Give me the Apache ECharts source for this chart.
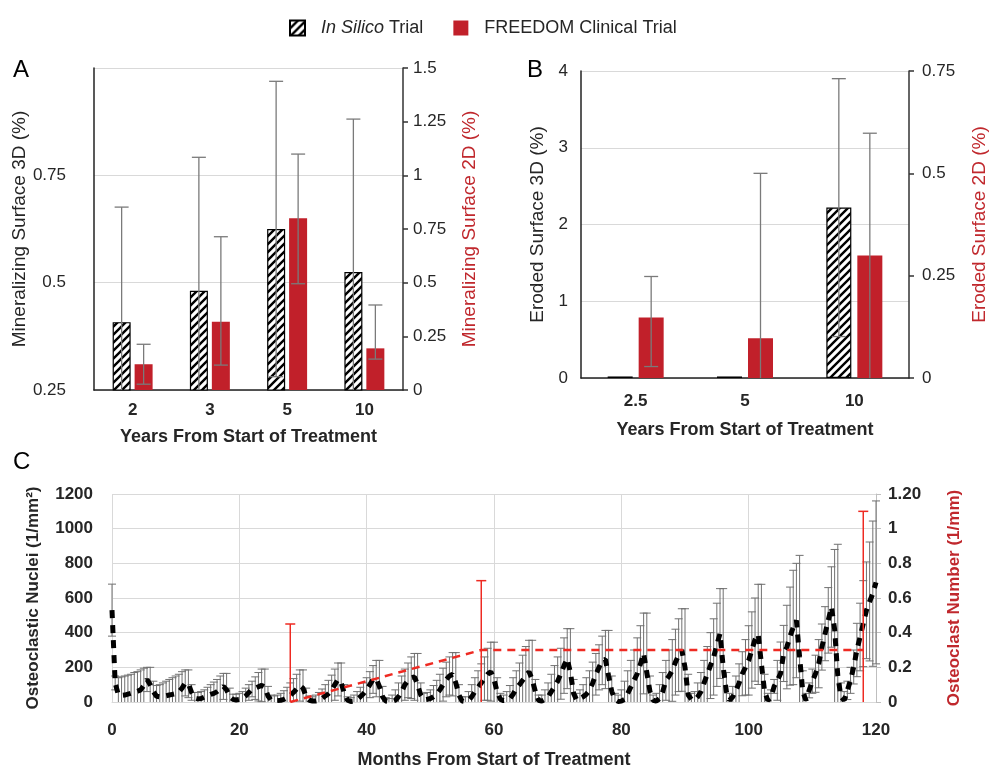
<!DOCTYPE html>
<html>
<head>
<meta charset="utf-8">
<script src="https://cdn.jsdelivr.net/npm/echarts@6/dist/echarts.min.js"></script>
<style>
  html, body { margin: 0; padding: 0; background: #fff; }
  #chart { width: 992px; height: 770px; }
</style>
</head>
<body>
<div id="chart"></div>
<script>
// ---- panel A: mineralizing surface ----
var yearsA = ['2', '3', '5', '10']
var msInSilico = [0.408, 0.481, 0.625, 0.525]
var msInSilicoLo = [0.14, 0.17, 0.281, 0.169]
var msInSilicoHi = [0.676, 0.792, 0.969, 0.881]
var msFreedom = [0.12, 0.318, 0.80, 0.194]
var msFreedomLo = [0.027, 0.116, 0.495, 0.144]
var msFreedomHi = [0.213, 0.714, 1.099, 0.396]

// ---- panel B: eroded surface ----
var yearsB = ['2.5', '5', '10']
var esInSilico = [0.02, 0.02, 2.22]
var esInSilicoLo = [0.02, 0.02, 0.54]
var esInSilicoHi = [0.02, 0.02, 3.90]
var esFreedom = [0.148, 0.097, 0.299]
var esFreedomLo = [0.028, 0, 0]
var esFreedomHi = [0.248, 0.50, 0.598]

// ---- panel C: osteoclasts, simulated every half month (0..120) ----
var ocMean = [
  530, 110, 40, 38, 40, 45, 50, 55, 62, 70, 95, 130,
  100, 60, 33, 30, 33, 36, 40, 44, 48, 58, 80, 110,
  105, 55, 22, 18, 20, 28, 36, 44, 50, 60, 75, 90,
  70, 30, 15, 12, 15, 20, 35, 55, 75, 80, 88, 96,
  85, 35, 10, 8, 8, 10, 15, 25, 39, 55, 75, 95,
  80, 30, 10, 6, 6, 10, 20, 35, 48, 70, 100, 130,
  110, 50, 10, 3, 5, 15, 30, 48, 70, 100, 130, 135,
  90, 30, 5, 2, 3, 10, 30, 60, 100, 125, 140, 145,
  100, 40, 12, 15, 20, 30, 45, 70, 100, 130, 150, 160,
  110, 40, 5, 2, 10, 30, 60, 85, 110, 135, 160, 175,
  130, 60, 15, 8, 10, 20, 45, 77, 100, 125, 150, 175,
  130, 60, 10, 5, 15, 30, 60, 87, 120, 163, 210, 250,
  170, 50, 10, 20, 30, 45, 67, 110, 160, 200, 240, 245,
  150, 60, 15, 3, 5, 15, 50, 87, 125, 163, 220, 280,
  170, 60, 10, 5, 20, 60, 125, 150, 182, 230, 270, 300,
  200, 40, 15, 10, 30, 60, 110, 160, 210, 260, 330, 395,
  200, 60, 10, 30, 67, 110, 163, 200, 240, 300, 360, 390,
  220, 60, 10, 25, 90, 125, 163, 280, 317, 380, 430, 470,
  260, 60, 10, 67, 120, 163, 221, 317, 394, 471, 548, 420,
  150, 30, 10, 67, 125, 202, 300, 375, 452, 529, 580, 625,
  690
]
var ocSD = [
  150, 40, 100, 107, 110, 110, 110, 115, 113, 115, 100, 70,
  100, 60, 62, 70, 77, 84, 90, 96, 102, 102, 95, 75,
  80, 45, 33, 37, 40, 42, 49, 56, 65, 70, 75, 75,
  95, 50, 30, 33, 35, 40, 45, 45, 45, 65, 82, 94,
  105, 55, 30, 27, 32, 40, 50, 60, 71, 80, 85, 90,
  105, 50, 25, 24, 34, 45, 55, 65, 77, 85, 90, 95,
  115, 50, 20, 22, 35, 45, 55, 62, 70, 75, 80, 105,
  150, 60, 20, 18, 37, 60, 80, 90, 90, 100, 120, 135,
  180, 70, 38, 40, 50, 65, 80, 90, 95, 100, 110, 125,
  175, 60, 25, 28, 50, 70, 80, 95, 110, 125, 150, 170,
  215, 80, 35, 32, 50, 75, 95, 103, 125, 145, 170, 181,
  226, 70, 30, 35, 55, 80, 100, 123, 140, 147, 160, 173,
  253, 80, 40, 50, 70, 95, 113, 120, 120, 130, 140, 168,
  263, 90, 35, 37, 65, 105, 130, 153, 175, 207, 220, 233,
  343, 90, 30, 45, 80, 110, 115, 150, 178, 190, 210, 238,
  338, 120, 35, 50, 80, 110, 130, 160, 190, 220, 240, 259,
  454, 110, 40, 60, 83, 110, 127, 160, 200, 220, 240, 289,
  459, 100, 40, 45, 40, 115, 183, 162, 241, 283, 330, 330,
  586, 120, 40, 43, 70, 107, 139, 133, 156, 189, 232, 460,
  760, 80, 50, 53, 75, 98, 154, 195, 248, 279, 343, 419,
  470
]
var freedomMonths = [28, 58, 118]
var ocNumber = [0, 0.3, 0.3]
var ocNumberSD = [0.45, 0.4, 0.8]

var FONT = "'Liberation Sans', Arial, sans-serif"
var TXT = '#262626'
var RED_AXIS = '#c0282d'
var BAR_RED = '#c1202a'
var LINE_RED = '#ee2a22'
var GRID = '#d9d9d9'
var WHISKER = '#707070'

// diagonal hatch for the in-silico bars
var hatch = document.createElement('canvas')
hatch.width = 8
hatch.height = 8
var hctx = hatch.getContext('2d')
hctx.fillStyle = '#fff'
hctx.fillRect(0, 0, 8, 8)
hctx.strokeStyle = '#000'
hctx.lineWidth = 2.4
hctx.beginPath()
hctx.moveTo(-2, 2); hctx.lineTo(2, -2)
hctx.moveTo(0, 8); hctx.lineTo(8, 0)
hctx.moveTo(6, 10); hctx.lineTo(10, 6)
hctx.stroke()
var hatchFill = { image: hatch, repeat: 'repeat' }

function line(x1, y1, x2, y2, color, w) {
  return { type: 'line', shape: { x1: x1, y1: y1, x2: x2, y2: y2 }, style: { stroke: color, lineWidth: w } }
}

// whiskers on grouped category bars
function catErrors(xi, yi, lo, hi, offset, capHalf) {
  return {
    type: 'custom', xAxisIndex: xi, yAxisIndex: yi, z: 5, silent: true,
    data: lo.map(function (l, i) { return [i, l, hi[i]] }),
    renderItem: function (params, api) {
      var l = api.value(1), h = api.value(2)
      if (h - l <= 0) return null
      var area = params.coordSys
      var floor = area.y + area.height
      var top = api.coord([api.value(0), h])
      var bot = api.coord([api.value(0), l])
      var x = top[0] + offset
      var y2 = Math.min(bot[1], floor)
      var kids = [
        line(x, top[1], x, y2, '#7a7a7a', 1.3),
        line(x - capHalf, top[1], x + capHalf, top[1], '#7a7a7a', 1.3)
      ]
      if (bot[1] < floor - 1) kids.push(line(x - capHalf, bot[1], x + capHalf, bot[1], '#7a7a7a', 1.3))
      return { type: 'group', children: kids }
    }
  }
}

// symmetric whiskers on a value x axis, clipped at zero
function timeErrors(yi, xs, mean, sd, color, w, capHalf, z) {
  return {
    type: 'custom', xAxisIndex: 2, yAxisIndex: yi, z: z, silent: true,
    data: mean.map(function (v, i) { return [xs[i], v, sd[i]] }),
    renderItem: function (params, api) {
      var x = api.value(0), v = api.value(1), e = api.value(2)
      var top = api.coord([x, v + e])
      var lowVal = v - e
      var bot = api.coord([x, Math.max(0, lowVal)])
      var kids = [
        line(top[0], top[1], top[0], bot[1], color, w),
        line(top[0] - capHalf, top[1], top[0] + capHalf, top[1], color, w)
      ]
      if (lowVal > 0) kids.push(line(top[0] - capHalf, bot[1], top[0] + capHalf, bot[1], color, w))
      return { type: 'group', children: kids }
    }
  }
}

var halfMonths = ocMean.map(function (v, i) { return i / 2 })

var chart = echarts.init(document.getElementById('chart'))

var labelStyle = { color: TXT, fontFamily: FONT, fontSize: 17 }
var boldLabel = { color: TXT, fontFamily: FONT, fontSize: 17, fontWeight: 'bold' }
var titleStyle = { color: TXT, fontFamily: FONT, fontSize: 18, fontWeight: 'bold' }
var plain = function (v) { return String(v) }

chart.setOption({
  animation: false,
  backgroundColor: '#fff',
  textStyle: { fontFamily: FONT },
  legend: {
    left: 284, top: 14, itemWidth: 15, itemHeight: 15, itemGap: 30, icon: 'rect',
    data: ['In Silico Trial', 'FREEDOM Clinical Trial'],
    formatter: function (n) { return n === 'In Silico Trial' ? '{i|In Silico} Trial' : n },
    textStyle: {
      color: TXT, fontFamily: FONT, fontSize: 18, padding: [0, 0, 0, 11],
      rich: { i: { fontStyle: 'italic', color: TXT, fontFamily: FONT, fontSize: 18 } }
    }
  },
  graphic: [
    { type: 'text', left: 13, top: 58, style: { text: 'A', font: '24px ' + FONT, fill: '#000' } },
    { type: 'text', left: 527, top: 58, style: { text: 'B', font: '24px ' + FONT, fill: '#000' } },
    { type: 'text', left: 13, top: 450, style: { text: 'C', font: '24px ' + FONT, fill: '#000' } }
  ],
  grid: [
    { left: 94, top: 68, width: 309, height: 322 },
    { left: 581, top: 71, width: 328, height: 307 },
    { left: 112, top: 494, width: 764, height: 208 }
  ],
  xAxis: [
    {
      type: 'category', gridIndex: 0, data: yearsA,
      axisLine: { lineStyle: { color: '#222', width: 1.5 } }, axisTick: { show: false },
      axisLabel: Object.assign({ margin: 12 }, boldLabel),
      name: 'Years From Start of Treatment', nameLocation: 'middle', nameGap: 38,
      nameTextStyle: titleStyle
    },
    {
      type: 'category', gridIndex: 1, data: yearsB,
      axisLine: { lineStyle: { color: '#222', width: 1.5 } }, axisTick: { show: false },
      axisLabel: Object.assign({ margin: 15 }, boldLabel),
      name: 'Years From Start of Treatment', nameLocation: 'middle', nameGap: 43,
      nameTextStyle: titleStyle
    },
    {
      type: 'value', gridIndex: 2, min: 0, max: 120, interval: 20,
      axisLine: { lineStyle: { color: GRID } }, axisTick: { show: false },
      splitLine: { lineStyle: { color: GRID, width: 1 } },
      axisLabel: Object.assign({ margin: 20, formatter: plain }, boldLabel),
      name: 'Months From Start of Treatment', nameLocation: 'middle', nameGap: 49,
      nameTextStyle: titleStyle
    }
  ],
  yAxis: [
    {
      type: 'value', gridIndex: 0, min: 0.25, max: 1, interval: 0.25,
      axisLine: { show: true, lineStyle: { color: '#222', width: 1.5 } }, axisTick: { show: false },
      splitLine: { lineStyle: { color: GRID } },
      axisLabel: Object.assign({ margin: 28, formatter: function (v) { return v >= 1 ? '' : String(v) } }, labelStyle),
      name: 'Mineralizing Surface 3D (%)', nameLocation: 'middle', nameGap: 45,
      nameTextStyle: { color: TXT, fontFamily: FONT, fontSize: 19 }
    },
    {
      type: 'value', gridIndex: 0, position: 'right', min: 0, max: 1.5, interval: 0.25,
      axisLine: { show: true, lineStyle: { color: '#333', width: 1.5 } },
      axisTick: { show: true, inside: false, length: 5, lineStyle: { color: '#333', width: 1.5 } },
      splitLine: { show: false },
      axisLabel: Object.assign({ margin: 10 }, labelStyle),
      name: 'Mineralizing Surface 2D (%)', nameLocation: 'middle', nameGap: 57, nameRotate: 90,
      nameTextStyle: { color: RED_AXIS, fontFamily: FONT, fontSize: 19 }
    },
    {
      type: 'value', gridIndex: 1, min: 0, max: 4, interval: 1,
      axisLine: { show: true, lineStyle: { color: '#222', width: 1.5 } }, axisTick: { show: false },
      splitLine: { lineStyle: { color: GRID } },
      axisLabel: Object.assign({ margin: 13 }, labelStyle),
      name: 'Eroded Surface 3D (%)', nameLocation: 'middle', nameGap: 34,
      nameTextStyle: { color: TXT, fontFamily: FONT, fontSize: 19 }
    },
    {
      type: 'value', gridIndex: 1, position: 'right', min: 0, max: 0.75, interval: 0.25,
      axisLine: { show: true, lineStyle: { color: '#333', width: 1.5 } },
      axisTick: { show: true, inside: false, length: 5, lineStyle: { color: '#333', width: 1.5 } },
      splitLine: { show: false },
      axisLabel: Object.assign({ margin: 13 }, labelStyle),
      name: 'Eroded Surface 2D (%)', nameLocation: 'middle', nameGap: 61, nameRotate: 90,
      nameTextStyle: { color: RED_AXIS, fontFamily: FONT, fontSize: 19 }
    },
    {
      type: 'value', gridIndex: 2, min: 0, max: 1200, interval: 200,
      axisLine: { show: false }, axisTick: { show: false },
      splitLine: { lineStyle: { color: GRID } },
      axisLabel: Object.assign({ margin: 19, formatter: plain }, boldLabel),
      name: 'Osteoclastic Nuclei (1/mm²)', nameLocation: 'middle', nameGap: 70,
      nameTextStyle: { color: TXT, fontFamily: FONT, fontSize: 17, fontWeight: 'bold' }
    },
    {
      type: 'value', gridIndex: 2, position: 'right', min: 0, max: 1.2, interval: 0.2,
      axisLine: { show: true, lineStyle: { color: '#bfbfbf' } },
      axisTick: { show: true, inside: false, length: 5, lineStyle: { color: '#bfbfbf' } },
      splitLine: { show: false },
      axisLabel: Object.assign({
        margin: 12,
        formatter: function (v) { return Math.abs(v - 1.2) < 1e-6 ? '1.20' : String(+v.toFixed(1)) }
      }, boldLabel),
      name: 'Osteoclast Number (1/mm)', nameLocation: 'middle', nameGap: 70, nameRotate: 90,
      nameTextStyle: { color: RED_AXIS, fontFamily: FONT, fontSize: 17, fontWeight: 'bold' }
    }
  ],
  series: [
    {
      name: 'In Silico Trial', type: 'bar', xAxisIndex: 0, yAxisIndex: 0, data: msInSilico,
      barWidth: 18, barGap: '22%',
      itemStyle: { color: hatchFill, borderColor: '#000', borderWidth: 1.2 }
    },
    {
      name: 'FREEDOM Clinical Trial', type: 'bar', xAxisIndex: 0, yAxisIndex: 1, data: msFreedom,
      barWidth: 18, barGap: '22%',
      itemStyle: { color: BAR_RED, borderColor: '#8a1a1e', borderWidth: 0 }
    },
    catErrors(0, 0, msInSilicoLo, msInSilicoHi, -11, 7),
    catErrors(0, 1, msFreedomLo, msFreedomHi, 11, 7),
    {
      name: 'In Silico Trial', type: 'bar', xAxisIndex: 1, yAxisIndex: 2, data: esInSilico,
      barWidth: 25, barGap: '24%',
      itemStyle: { color: hatchFill, borderColor: '#000', borderWidth: 1.2 }
    },
    {
      name: 'FREEDOM Clinical Trial', type: 'bar', xAxisIndex: 1, yAxisIndex: 3, data: esFreedom,
      barWidth: 25, barGap: '24%',
      itemStyle: { color: BAR_RED, borderColor: '#8a1a1e', borderWidth: 0 }
    },
    catErrors(1, 2, esInSilicoLo, esInSilicoHi, -15.5, 7),
    catErrors(1, 3, esFreedomLo, esFreedomHi, 15.5, 7),
    timeErrors(4, halfMonths, ocMean, ocSD, WHISKER, 1, 4, 3),
    {
      type: 'line', xAxisIndex: 2, yAxisIndex: 4, z: 4, symbol: 'none', silent: true,
      data: ocMean.map(function (v, i) { return [halfMonths[i], v] }),
      lineStyle: { color: '#000', width: 5, type: [8, 7] }
    },
    timeErrors(5, freedomMonths, ocNumber, ocNumberSD, LINE_RED, 1.5, 5, 6),
    {
      type: 'line', xAxisIndex: 2, yAxisIndex: 5, z: 6, symbol: 'none', silent: true,
      data: ocNumber.map(function (v, i) { return [freedomMonths[i], v] }),
      lineStyle: { color: LINE_RED, width: 2.5, type: [8, 6] }
    }
  ]
})
</script>
</body>
</html>
